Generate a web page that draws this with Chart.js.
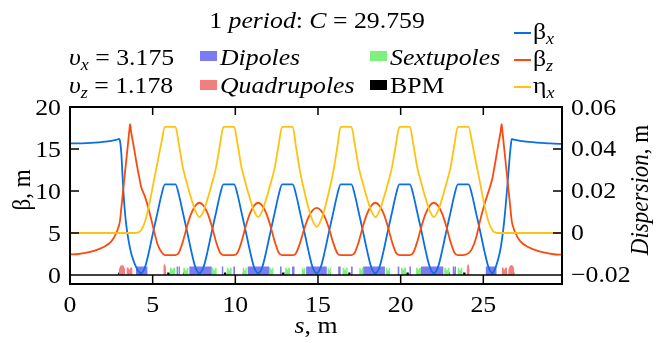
<!DOCTYPE html>
<html>
<head>
<meta charset="utf-8">
<script src="https://cdn.jsdelivr.net/npm/chart.js"></script>
<style>
  body { margin: 0; background: #fff; }
  #wrap { width: 656px; height: 343px; }
</style>
</head>
<body>
<div id="wrap"><canvas id="lattice"></canvas></div>
<script>
// longitudinal position, m
const sPos = [
    0, 0.5, 1.0, 1.5, 2.0, 2.5, 2.8, 2.96, 3.02, 3.1, 3.2, 3.3, 3.4, 3.5, 3.6, 3.63, 3.7, 3.8, 3.9, 4.0, 4.1, 4.2,
    4.29, 4.54, 4.79, 5.04, 5.29, 5.54, 5.74, 6.06,
    6.38, 6.58, 6.83, 7.08, 7.33, 7.58, 7.83, 8.08, 8.33, 8.58, 8.83, 9.08, 9.28, 9.60,
    9.93, 10.13, 10.38, 10.63, 10.88, 11.13, 11.38, 11.63, 11.88, 12.13, 12.38, 12.63, 12.83, 13.15,
    13.47, 13.67, 13.92, 14.17, 14.42, 14.67, 14.92, 15.17, 15.42, 15.67, 15.92, 16.17, 16.37, 16.69,
    17.02, 17.22, 17.47, 17.72, 17.97, 18.22, 18.47, 18.72, 18.97, 19.22, 19.47, 19.72, 19.92, 20.24,
    20.56, 20.76, 21.01, 21.26, 21.51, 21.76, 22.01, 22.26, 22.51, 22.76, 23.01, 23.26, 23.46, 23.78,
    24.11, 24.31, 24.56, 24.81, 25.06, 25.31, 25.56,
    25.64, 25.74, 25.84, 25.94, 26.04, 26.11, 26.14, 26.24, 26.34, 26.44, 26.54, 26.64, 26.72, 26.78, 26.94, 27.24, 27.74, 28.24, 28.74, 29.24, 29.759
];

const betaX = [
    15.66, 15.67, 15.71, 15.77, 15.86, 15.98, 16.08, 16.2, 16.0, 14.6, 11.0, 8.0, 6.0, 4.6, 3.5, 3.2, 2.6, 1.95, 1.4, 0.95, 0.55, 0.3,
    0.2, 0.95, 2.9, 5.2, 7.4, 9.6, 10.8, 10.8,
    10.8, 9.6, 7.4, 5.2, 2.9, 0.95, 0.2, 0.95, 2.9, 5.2, 7.4, 9.6, 10.8, 10.8,
    10.8, 9.6, 7.4, 5.2, 2.9, 0.95, 0.2, 0.95, 2.9, 5.2, 7.4, 9.6, 10.8, 10.8,
    10.8, 9.6, 7.4, 5.2, 2.9, 0.95, 0.2, 0.95, 2.9, 5.2, 7.4, 9.6, 10.8, 10.8,
    10.8, 9.6, 7.4, 5.2, 2.9, 0.95, 0.2, 0.95, 2.9, 5.2, 7.4, 9.6, 10.8, 10.8,
    10.8, 9.6, 7.4, 5.2, 2.9, 0.95, 0.2, 0.95, 2.9, 5.2, 7.4, 9.6, 10.8, 10.8,
    10.8, 9.6, 7.4, 5.2, 2.9, 0.95, 0.2,
    0.45, 0.9, 1.5, 2.2, 3.1, 4.0, 4.4, 6.0, 8.0, 10.3, 12.7, 15.0, 16.2, 16.15, 16.08, 15.98, 15.86, 15.77, 15.7, 15.65, 15.6
];

const betaZ = [
    2.45, 2.5, 2.65, 2.9, 3.3, 4.0, 5.0, 5.9, 6.4, 7.9, 9.8, 11.7, 13.6, 15.5, 17.4, 17.95, 17.0, 15.9, 14.8, 13.6, 12.5, 11.5,
    10.6, 9.3, 7.6, 5.6, 3.7, 2.7, 2.37, 2.37,
    2.37, 2.65, 4.0, 5.8, 7.3, 8.25, 8.6, 8.25, 7.3, 5.8, 4.0, 2.65, 2.37, 2.37,
    2.37, 2.65, 4.0, 5.8, 7.3, 8.25, 8.6, 8.25, 7.3, 5.8, 4.0, 2.65, 2.37, 2.37,
    2.37, 2.6, 3.85, 5.5, 6.85, 7.7, 8.0, 7.7, 6.85, 5.5, 3.85, 2.6, 2.37, 2.37,
    2.37, 2.65, 4.0, 5.8, 7.3, 8.25, 8.6, 8.25, 7.3, 5.8, 4.0, 2.65, 2.37, 2.37,
    2.37, 2.65, 4.0, 5.8, 7.3, 8.25, 8.6, 8.25, 7.3, 5.8, 4.0, 2.65, 2.37, 2.37,
    2.6, 3.1, 4.4, 6.5, 8.35, 9.9, 11.6,
    12.5, 13.6, 14.8, 15.9, 17.0, 17.95, 17.4, 15.5, 13.6, 11.7, 9.8, 7.9, 6.4, 5.9, 5.0, 4.0, 3.3, 2.9, 2.65, 2.47, 2.42
];

const etaX = [
    0, 0, 0, 0, 0, 0, 0, 0, 0, 0, 0, 0, 0, 0, 0, 0, 0, 0, 0, 0, 0.0002, 0.0006,
    0.0012, 0.0055, 0.0135, 0.0235, 0.0335, 0.0435, 0.0505, 0.0505,
    0.0505, 0.0425, 0.031, 0.0235, 0.0165, 0.0105, 0.0076, 0.0105, 0.0165, 0.0235, 0.031, 0.0425, 0.0505, 0.0505,
    0.0505, 0.0425, 0.031, 0.0235, 0.0165, 0.0105, 0.0076, 0.0105, 0.0165, 0.0235, 0.031, 0.0425, 0.0505, 0.0505,
    0.0505, 0.041, 0.029, 0.020, 0.012, 0.006, 0.0029, 0.006, 0.012, 0.020, 0.029, 0.041, 0.0505, 0.0505,
    0.0505, 0.0425, 0.031, 0.0235, 0.0165, 0.0105, 0.0076, 0.0105, 0.0165, 0.0235, 0.031, 0.0425, 0.0505, 0.0505,
    0.0505, 0.0425, 0.031, 0.0235, 0.0165, 0.0105, 0.0076, 0.0105, 0.0165, 0.0235, 0.031, 0.0425, 0.0505, 0.0505,
    0.0505, 0.0435, 0.0335, 0.0235, 0.0135, 0.0055, 0.0012,
    0.0006, 0.0002, 0, 0, 0, 0, 0, 0, 0, 0, 0, 0, 0, 0, 0, 0, 0, 0, 0, 0, 0
];

// magnets: [start, end] in m
const dipoles = [
    [3.99, 4.68], [6.45, 6.53], [6.57, 6.65], [7.22, 8.57], [9.18, 9.27], [9.88, 9.98],
    [10.75, 12.06], [12.70, 12.80], [13.43, 13.58], [14.28, 15.53], [16.22, 16.37], [17.00, 17.10],
    [17.74, 19.05], [19.82, 19.92], [20.53, 20.62], [21.23, 22.58], [23.15, 23.23], [23.27, 23.35], [25.15, 25.81]
];
const quadrupoles = [[2.96, 3.33], [3.43, 3.77], [5.64, 5.81], [24.0, 24.16], [26.12, 26.44], [26.52, 26.88]];
const quadHeights = [1.2, 0.9, 1.3, 1.3, 0.9, 1.2];
const quadShapes = ['bump', 'notch', 'bump', 'bump', 'notch', 'bump'];
const sextupoles = [
    [6.05, 6.35], [6.85, 7.16], [8.57, 8.87], [9.48, 9.78], [10.45, 10.69], [12.06, 12.30], [13.01, 13.31], [14.02, 14.22],
    [15.58, 15.78], [16.49, 16.79], [17.50, 17.74], [19.11, 19.35], [20.02, 20.32], [20.93, 21.23], [22.64, 22.95], [23.45, 23.75]
];
const bpms = [2.98, 5.95, 6.90, 9.38, 10.52, 12.90, 14.11, 15.69, 16.90, 19.28, 20.42, 22.90, 23.85, 26.82];

const xTicks = [0, 5, 10, 15, 20, 25];
const betaTicks = [0, 5, 10, 15, 20];
const etaTicks = [-0.02, 0, 0.02, 0.04, 0.06];

const C = {
    bx: '#0a6fdf',
    bz: '#fb4a0e',
    eta: '#ffc30f',
    dip: '#7b7bf6',
    quad: '#f27e7e',
    sext: '#7ef07e'
};
const FAM = "'Liberation Serif', 'Times New Roman', serif";
const SX = 1.12;

const magnetPoints = (spans, heights, shapes) => {
    const pts = [];
    spans.forEach((sp, i) => {
        const a = sp[0], b = sp[1], w = b - a;
        const h = Array.isArray(heights) ? heights[i] : heights;
        const shape = Array.isArray(shapes) ? shapes[i] : shapes;
        pts.push({x: a, y: 0});
        if (shape === 'notch') {
            pts.push({x: a, y: h}, {x: a + w * 0.3, y: h}, {x: a + w * 0.42, y: h * 0.65},
                     {x: b - w * 0.42, y: h * 0.65}, {x: b - w * 0.3, y: h}, {x: b, y: h});
        } else if (shape === 'bump') {
            pts.push({x: a, y: h * 0.55}, {x: a + w * 0.2, y: h * 0.9}, {x: a + w * 0.5, y: h},
                     {x: b - w * 0.2, y: h * 0.9}, {x: b, y: h * 0.55});
        } else {
            pts.push({x: a, y: h}, {x: b, y: h});
        }
        pts.push({x: b, y: 0});
    });
    return pts;
};

const magnetSet = (label, data, color) => ({
    label: label,
    data: data,
    yAxisID: 'y',
    borderWidth: 0,
    borderColor: 'transparent',
    backgroundColor: color,
    fill: 'origin',
    pointRadius: 0,
    tension: 0,
    order: 10
});

const curveSet = (label, values, color, axis, order) => ({
    label: label,
    data: sPos.map((s, i) => ({x: s, y: values[i]})),
    yAxisID: axis,
    borderColor: color,
    borderWidth: 1.8,
    pointRadius: 0,
    fill: false,
    cubicInterpolationMode: 'monotone',
    order: order
});

// text with mixed upright / italic parts, stretched a bit horizontally like the source figure
const rich = (ctx, parts, x, y, align, sx) => {
    if (sx === undefined) sx = SX;
    let total = 0;
    parts.forEach(p => {
        ctx.font = (p.i ? 'italic ' : '') + (p.size || 23) + 'px ' + FAM;
        p.w = ctx.measureText(p.t).width;
        total += p.w;
    });
    let cx = align === 'center' ? -total / 2 : (align === 'right' ? -total : 0);
    ctx.save();
    ctx.translate(x, y);
    ctx.scale(sx, 1);
    ctx.fillStyle = '#000';
    ctx.textAlign = 'left';
    ctx.textBaseline = 'alphabetic';
    parts.forEach(p => {
        ctx.font = (p.i ? 'italic ' : '') + (p.size || 23) + 'px ' + FAM;
        ctx.fillText(p.t, cx, p.dy || 0);
        cx += p.w;
    });
    ctx.restore();
};

const rotated = (ctx, parts, x, y) => {
    ctx.save();
    ctx.translate(x, y);
    ctx.scale(SX, 1);
    ctx.rotate(-Math.PI / 2);
    rich(ctx, parts, 0, 0, 'center', 1);
    ctx.restore();
};

const fmtEta = v => v < 0 ? '\u2212' + Math.abs(v).toFixed(2) : (v === 0 ? '0' : v.toFixed(2));

const decor = {
    id: 'decor',
    beforeDraw(chart) {
        const ctx = chart.ctx;
        ctx.save();
        ctx.fillStyle = '#fff';
        ctx.fillRect(0, 0, chart.width, chart.height);
        ctx.restore();
    },
    afterDatasetsDraw(chart) {
        const ctx = chart.ctx, a = chart.chartArea;
        const xs = chart.scales.x, ys = chart.scales.y, y2 = chart.scales.y2;
        const zero = ys.getPixelForValue(0);
        ctx.save();
        ctx.strokeStyle = '#000';
        ctx.lineWidth = 1.5;
        ctx.beginPath();
        ctx.moveTo(a.left, zero);
        ctx.lineTo(a.right, zero);
        xs.ticks.forEach(t => {
            const px = xs.getPixelForValue(t.value);
            ctx.moveTo(px, zero);
            ctx.lineTo(px, a.bottom);
            ctx.moveTo(px, a.top);
            ctx.lineTo(px, a.top + 8);
        });
        ys.ticks.forEach(t => {
            const py = ys.getPixelForValue(t.value);
            ctx.moveTo(a.left, py);
            ctx.lineTo(a.left + 9, py);
        });
        y2.ticks.forEach(t => {
            const py = y2.getPixelForValue(t.value);
            ctx.moveTo(a.right, py);
            ctx.lineTo(a.right - 9, py);
        });
        ctx.stroke();
        ctx.lineWidth = 2;
        ctx.strokeRect(a.left, a.top, a.right - a.left, a.bottom - a.top);
        ctx.restore();
    },
    afterDraw(chart) {
        const ctx = chart.ctx;
        const xs = chart.scales.x, ys = chart.scales.y, y2 = chart.scales.y2;

        // tick labels
        xs.ticks.forEach(t => rich(ctx, [{t: String(t.value)}], xs.getPixelForValue(t.value), 312, 'center'));
        ys.ticks.forEach(t => rich(ctx, [{t: String(t.value)}], 61, ys.getPixelForValue(t.value) + 7.5, 'right'));
        y2.ticks.forEach(t => rich(ctx, [{t: fmtEta(t.value)}], 571, y2.getPixelForValue(t.value) + 7.5, 'left'));

        // axis titles
        rich(ctx, [{t: 's', i: true}, {t: ', m'}], 316, 333, 'center');
        rotated(ctx, [{t: '\u03b2, m'}], 30, 190);
        rotated(ctx, [{t: 'Dispersion', i: true}, {t: ', m'}], 648, 190);

        // header
        rich(ctx, [{t: '1 '}, {t: 'period', i: true}, {t: ': '}, {t: 'C', i: true}, {t: ' = 29.759'}], 317, 28, 'center');
        rich(ctx, [{t: '\u03c5', i: true}, {t: 'x', i: true, size: 16, dy: 5}, {t: ' = 3.175'}], 69, 65, 'left');
        rich(ctx, [{t: '\u03c5', i: true}, {t: 'z', i: true, size: 16, dy: 5}, {t: ' = 1.178'}], 69, 93, 'left');

        const boxes = [
            [200, 51, C.dip, [{t: 'Dipoles', i: true}], 65],
            [370, 51, C.sext, [{t: 'Sextupoles', i: true}], 65],
            [200, 80, C.quad, [{t: 'Quadrupoles', i: true}], 93],
            [370, 80, '#000', [{t: 'BPM'}], 93]
        ];
        boxes.forEach(b => {
            ctx.fillStyle = b[2];
            ctx.fillRect(b[0], b[1], 17, 10);
            rich(ctx, b[3], b[0] + 20, b[4], 'left');
        });

        const lines = [
            [33, C.bx, [{t: '\u03b2'}, {t: 'x', i: true, size: 16, dy: 5}]],
            [60, C.bz, [{t: '\u03b2'}, {t: 'z', i: true, size: 16, dy: 5}]],
            [87, C.eta, [{t: '\u03b7'}, {t: 'x', i: true, size: 16, dy: 5}]]
        ];
        lines.forEach(l => {
            ctx.save();
            ctx.strokeStyle = l[1];
            ctx.lineWidth = 2;
            ctx.beginPath();
            ctx.moveTo(514, l[0]);
            ctx.lineTo(531, l[0]);
            ctx.stroke();
            ctx.restore();
            rich(ctx, l[2], 533, l[0] + 6, 'left');
        });
    }
};

new Chart(document.getElementById('lattice').getContext('2d'), {
    type: 'line',
    data: {
        datasets: [
            curveSet('\u03b7x', etaX, C.eta, 'y2', 1),
            curveSet('\u03b2z', betaZ, C.bz, 'y', 2),
            curveSet('\u03b2x', betaX, C.bx, 'y', 3),
            magnetSet('Dipoles', magnetPoints(dipoles, 1.0, 'rect'), C.dip),
            magnetSet('Quadrupoles', magnetPoints(quadrupoles, quadHeights, quadShapes), C.quad),
            magnetSet('Sextupoles', magnetPoints(sextupoles, 0.85, 'notch'), C.sext),
            magnetSet('BPM', magnetPoints(bpms.map(s => [s - 0.07, s + 0.07]), 0.3, 'rect'), '#000')
        ]
    },
    options: {
        responsive: true,
        maintainAspectRatio: false,
        animation: false,
        layout: { padding: { top: 107, left: 0, right: 0, bottom: 0 } },
        plugins: {
            legend: { display: false },
            tooltip: { enabled: false },
            title: { display: false }
        },
        scales: {
            x: {
                type: 'linear',
                min: 0,
                max: 29.759,
                grid: { display: false, drawTicks: false },
                border: { display: false },
                ticks: { display: false },
                afterBuildTicks: s => { s.ticks = xTicks.map(v => ({value: v})); },
                afterFit: s => { s.height = 59; }
            },
            y: {
                position: 'left',
                min: -1.071,
                max: 20,
                grid: { display: false, drawTicks: false },
                border: { display: false },
                ticks: { display: false },
                afterBuildTicks: s => { s.ticks = betaTicks.map(v => ({value: v})); },
                afterFit: s => { s.width = 70; }
            },
            y2: {
                position: 'right',
                min: -0.024286,
                max: 0.06,
                grid: { display: false, drawTicks: false },
                border: { display: false },
                ticks: { display: false },
                afterBuildTicks: s => { s.ticks = etaTicks.map(v => ({value: v})); },
                afterFit: s => { s.width = 94; }
            }
        }
    },
    plugins: [decor]
});
</script>
</body>
</html>
